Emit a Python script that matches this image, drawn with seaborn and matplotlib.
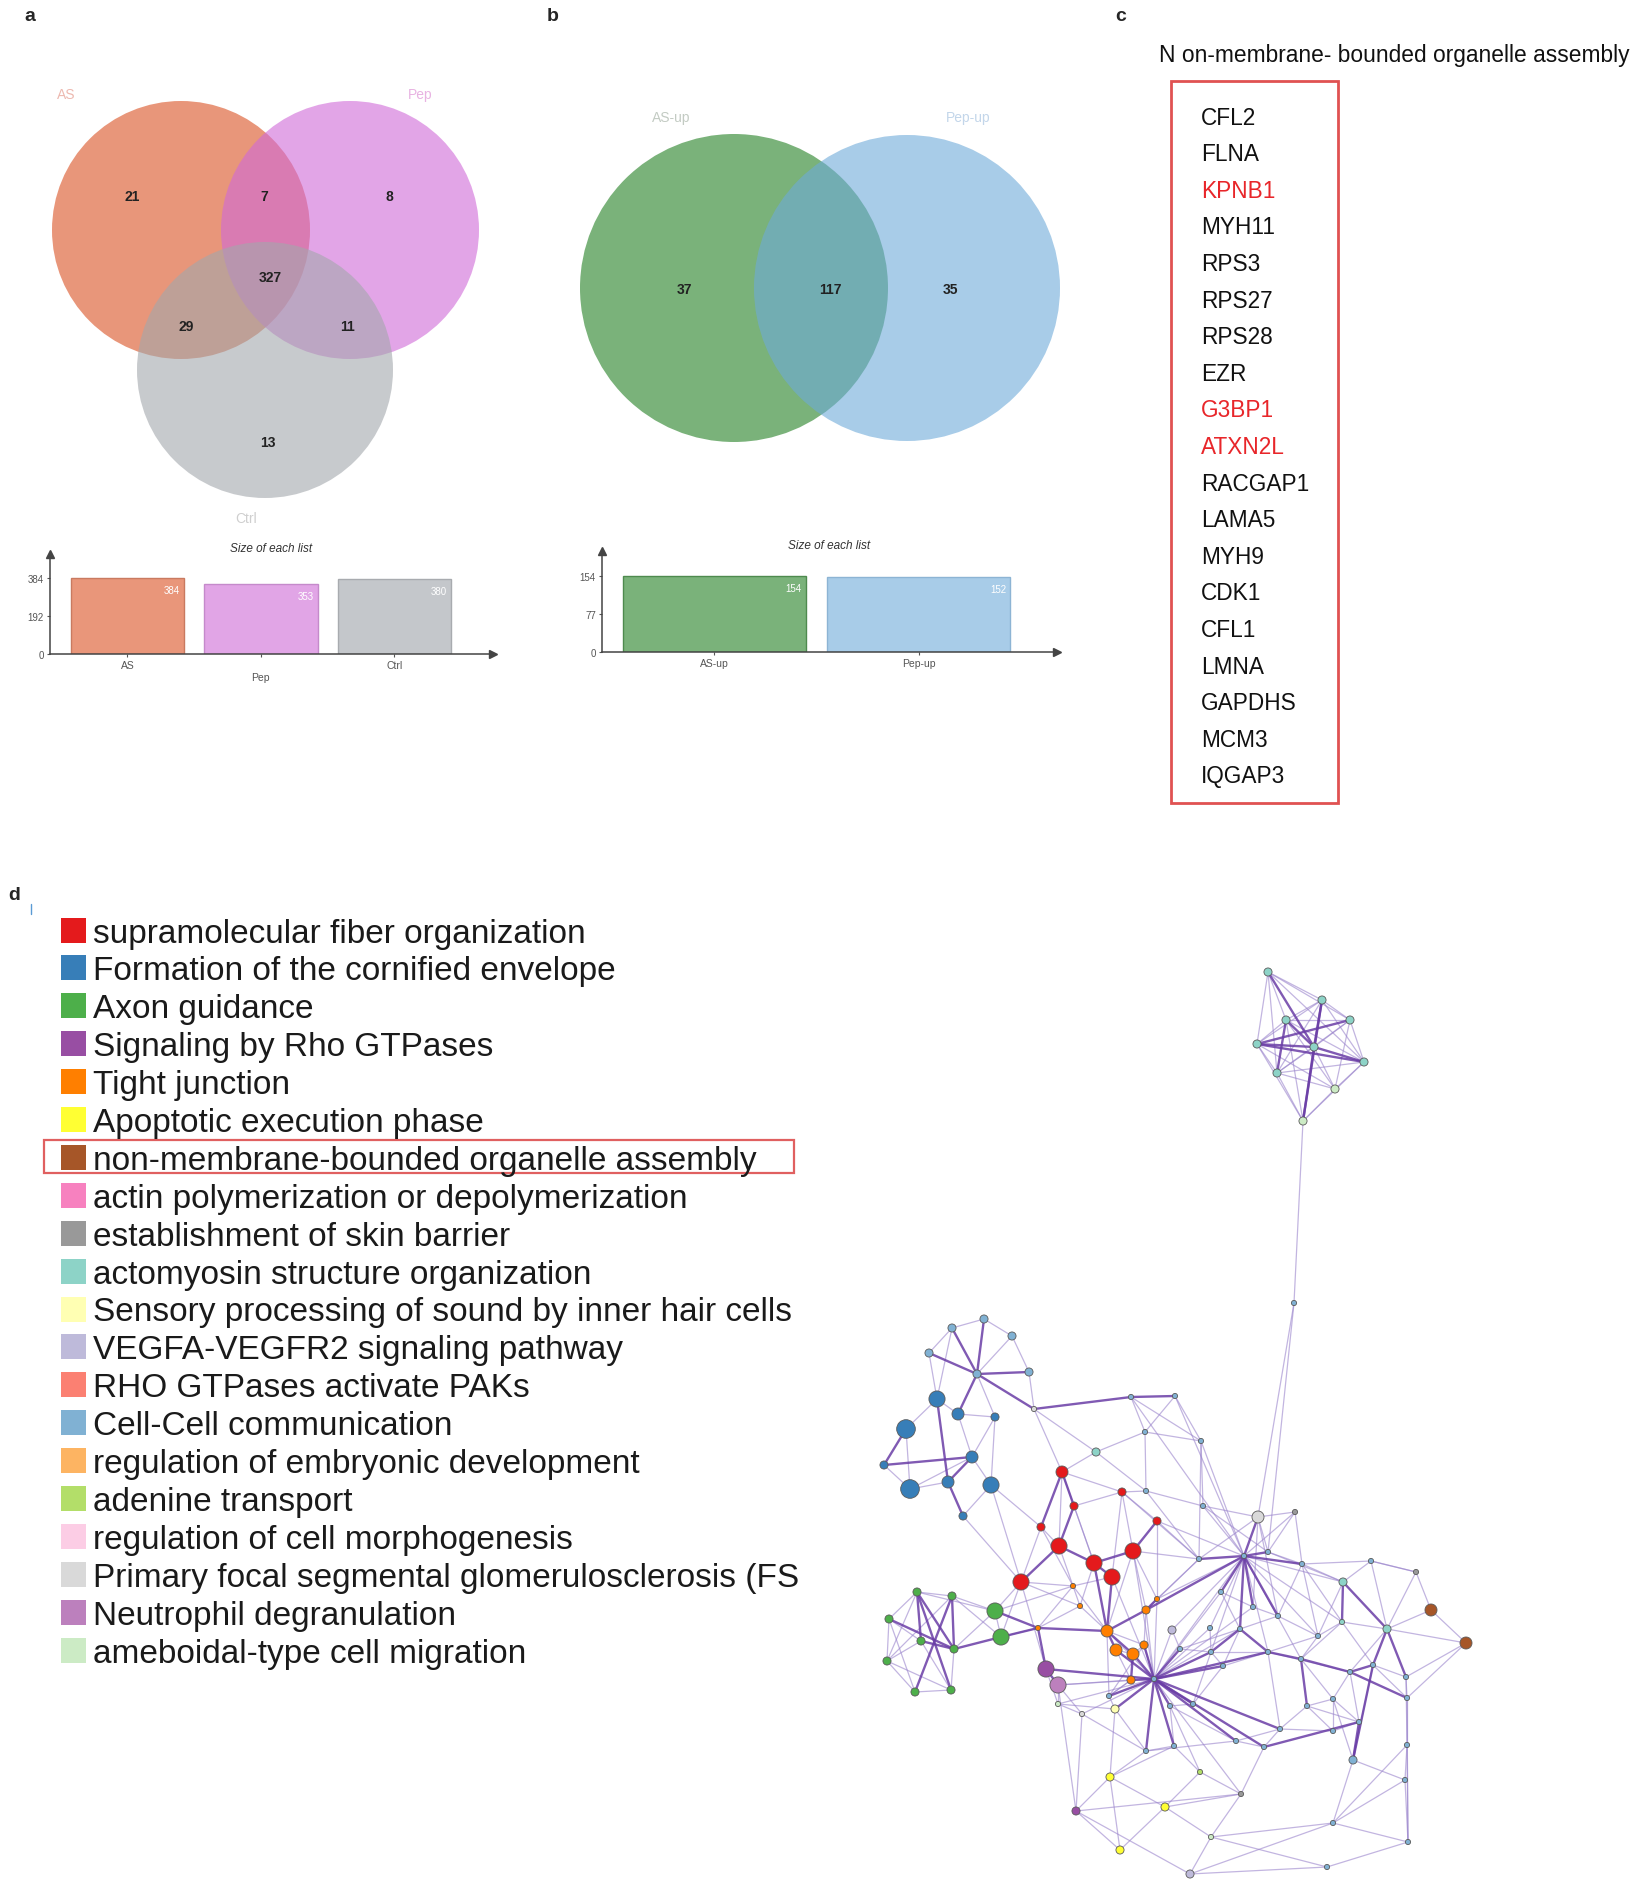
import numpy as np
import pandas as pd
import matplotlib
matplotlib.use("Agg")
import matplotlib.pyplot as plt
from matplotlib.patches import Circle, Rectangle
from matplotlib.collections import LineCollection
import seaborn as sns

# ======================= DATA =======================
# Panel a: three-set Venn
venn_a_sets = ["AS", "Pep", "Ctrl"]
venn_a_regions = ["AS only", "AS&Pep", "Pep only", "AS&Pep&Ctrl", "AS&Ctrl", "Pep&Ctrl", "Ctrl only"]
venn_a_counts = [21, 7, 8, 327, 29, 11, 13]
list_a_names = ["AS", "Pep", "Ctrl"]
list_a_sizes = [384, 353, 380]
list_a_ticks = [0, 192, 384]

# Panel b: two-set Venn
venn_b_sets = ["AS-up", "Pep-up"]
venn_b_regions = ["AS-up only", "both", "Pep-up only"]
venn_b_counts = [37, 117, 35]
list_b_names = ["AS-up", "Pep-up"]
list_b_sizes = [154, 152]
list_b_ticks = [0, 77, 154]

# Panel c: gene list
panel_c_title = "N on-membrane- bounded organelle assembly"
genes = ["CFL2", "FLNA", "KPNB1", "MYH11", "RPS3", "RPS27", "RPS28", "EZR", "G3BP1",
         "ATXN2L", "RACGAP1", "LAMA5", "MYH9", "CDK1", "CFL1", "LMNA", "GAPDHS", "MCM3", "IQGAP3"]
highlight_genes = ["KPNB1", "G3BP1", "ATXN2L"]

# Panel d: enrichment network
terms = ["supramolecular fiber organization", "Formation of the cornified envelope", "Axon guidance",
         "Signaling by Rho GTPases", "Tight junction", "Apoptotic execution phase",
         "non-membrane-bounded organelle assembly", "actin polymerization or depolymerization",
         "establishment of skin barrier", "actomyosin structure organization",
         "Sensory processing of sound by inner hair cells", "VEGFA-VEGFR2 signaling pathway",
         "RHO GTPases activate PAKs", "Cell-Cell communication", "regulation of embryonic development",
         "adenine transport", "regulation of cell morphogenesis",
         "Primary focal segmental glomerulosclerosis (FS", "Neutrophil degranulation",
         "ameboidal-type cell migration"]
term_colors = ["#E41A1C", "#377EB8", "#4DAF4A", "#984EA3", "#FF7F00", "#FFFF33", "#A65628",
               "#F781BF", "#999999", "#8DD3C7", "#FFFFB3", "#BEBADA", "#FB8072", "#80B1D3",
               "#FDB462", "#B3DE69", "#FCCDE5", "#D9D9D9", "#BC80BD", "#CCEBC5"]
highlight_term = "non-membrane-bounded organelle assembly"

node_x = [1268, 1322, 1350, 1286, 1257, 1314, 1364, 1277, 1335, 1303,
          1294, 984, 952, 1012, 929, 977, 1029, 937, 958, 995,
          1034, 906, 884, 972, 948, 910, 991, 963, 1131, 1175,
          1145, 1201, 1096, 1146, 1203, 1062, 1122, 1074, 1157, 1041,
          1059, 1133, 1094, 1112, 1021, 1073, 1080, 1157, 1146, 1038,
          1107, 1116, 1133, 1144, 1131, 917, 952, 995, 889, 1001,
          921, 954, 887, 915, 951, 1046, 1058, 1076, 1190, 1115,
          1110, 1165, 1120, 1200, 1058, 1082, 1172, 1210, 1295, 1371,
          1302, 1343, 1416, 1431, 1466, 1342, 1387, 1318, 1278, 1253,
          1373, 1406, 1407, 1307, 1359, 1333, 1280, 1264, 1236, 1146,
          1174, 1407, 1353, 1405, 1241, 1333, 1408, 1327, 1211, 1109,
          1170, 1193, 1223, 1244, 1199, 1221, 1268, 1154, 1180, 1211,
          1240, 1268, 1301, 1350, 1258, 1333]
node_y = [973, 1001, 1021, 1021, 1045, 1048, 1063, 1074, 1090, 1122,
          1304, 1320, 1329, 1337, 1354, 1375, 1373, 1400, 1415, 1418,
          1410, 1430, 1466, 1458, 1483, 1490, 1486, 1517, 1398, 1397,
          1433, 1442, 1453, 1492, 1507, 1473, 1493, 1507, 1522, 1528,
          1547, 1552, 1564, 1578, 1583, 1587, 1607, 1600, 1611, 1629,
          1632, 1651, 1655, 1646, 1681, 1593, 1597, 1612, 1620, 1638,
          1642, 1650, 1662, 1693, 1691, 1670, 1686, 1812, 1875, 1710,
          1778, 1808, 1851, 1773, 1705, 1715, 1631, 1629, 1513, 1562,
          1565, 1583, 1573, 1611, 1644, 1623, 1630, 1637, 1617, 1608,
          1666, 1678, 1699, 1707, 1723, 1732, 1730, 1748, 1742, 1752,
          1747, 1746, 1761, 1781, 1795, 1824, 1843, 1868, 1838, 1697,
          1707, 1705, 1667, 1557, 1560, 1593, 1553, 1680, 1650, 1653,
          1630, 1653, 1660, 1673, 1518, 1700]
node_term = [9, 9, 9, 9, 9, 9, 9, 9, 19, 19,
             13, 13, 13, 13, 13, 13, 13, 1, 1, 1,
             17, 1, 1, 1, 1, 1, 1, 1, 13, 13,
             13, 13, 9, 13, 13, 0, 0, 0, 0, 0,
             0, 0, 0, 0, 0, 4, 4, 4, 4, 4,
             4, 4, 4, 4, 4, 2, 2, 2, 2, 2,
             2, 2, 2, 2, 2, 3, 18, 3, 11, 10,
             5, 5, 5, 15, 19, 17, 11, 13, 8, 13,
             13, 9, 8, 6, 6, 9, 9, 13, 13, 13,
             13, 13, 13, 13, 13, 13, 13, 13, 13, 13,
             13, 13, 13, 13, 8, 13, 13, 13, 19, 13,
             13, 13, 13, 13, 13, 13, 13, 13, 13, 13,
             13, 13, 13, 13, 17, 13]
node_rank = [2, 2, 2, 2, 2, 2, 2, 2, 2, 2,
             1, 2, 2, 2, 2, 2, 2, 4, 3, 2,
             1, 5, 2, 3, 3, 5, 4, 2, 1, 1,
             1, 1, 2, 1, 1, 3, 2, 2, 2, 2,
             4, 4, 4, 4, 4, 1, 1, 1, 2, 1,
             3, 3, 3, 2, 2, 2, 2, 4, 2, 4,
             2, 2, 2, 2, 2, 4, 4, 2, 2, 2,
             2, 2, 2, 1, 1, 1, 2, 1, 1, 1,
             1, 2, 1, 3, 3, 1, 2, 1, 1, 1,
             1, 1, 1, 1, 1, 1, 1, 1, 1, 1,
             1, 1, 2, 1, 1, 1, 1, 1, 1, 1,
             1, 1, 1, 1, 1, 1, 1, 1, 1, 1,
             1, 1, 1, 1, 3, 1]

edges_strong = [(0, 5), (1, 5), (1, 9), (2, 4), (3, 5), (4, 5), (5, 6), (3, 7), (5, 9), (4, 6),
                (11, 15), (12, 15), (14, 15), (15, 16), (15, 20), (22, 23), (23, 24), (24, 27),
                (17, 24), (15, 18), (21, 22), (28, 29), (20, 28),
                (35, 37), (37, 40), (40, 42), (41, 42), (42, 43), (38, 41), (40, 44), (43, 50),
                (42, 50), (35, 39), (47, 48), (48, 50), (50, 51), (50, 52), (52, 54), (49, 50),
                (48, 113), (53, 117), (52, 117), (51, 117),
                (55, 60), (56, 61), (58, 61), (60, 61), (59, 61), (61, 55), (57, 49), (59, 49),
                (55, 64), (56, 63),
                (117, 54), (117, 65), (117, 69), (117, 110), (117, 99), (117, 100), (117, 111),
                (117, 112), (117, 119), (117, 121), (117, 98), (117, 109), (117, 118),
                (113, 114), (113, 115), (113, 116), (113, 124), (113, 89), (113, 88), (113, 120),
                (113, 80), (81, 85), (81, 86), (86, 90), (90, 123), (122, 123), (93, 122),
                (94, 102), (102, 90), (92, 123), (86, 91), (119, 120), (120, 121),
                (65, 66), (65, 49), (117, 96), (117, 97), (121, 122), (94, 97)]
edges_weak = [(0, 3), (0, 4), (1, 3), (1, 2), (2, 5), (2, 6), (3, 4), (4, 7), (5, 7), (5, 8),
              (6, 8), (7, 9), (8, 9), (6, 9), (3, 6), (9, 10), (10, 124),
              (0, 1), (0, 2), (0, 6), (0, 7), (1, 4), (1, 6), (1, 7), (2, 3), (2, 7), (2, 8),
              (3, 8), (3, 9), (4, 8), (4, 9), (6, 7), (7, 8),
              (13, 15), (11, 12), (11, 13), (12, 14), (13, 16), (14, 17), (15, 19), (17, 18),
              (17, 21), (18, 19), (18, 23), (21, 25), (22, 25), (23, 26), (24, 25), (26, 27),
              (19, 23), (23, 25), (19, 26), (16, 20), (12, 17), (20, 32), (27, 44), (26, 44),
              (26, 39), (20, 35),
              (28, 30), (29, 30), (28, 31), (29, 31), (30, 31), (30, 32), (30, 33), (31, 34),
              (33, 34), (32, 33), (28, 113), (29, 113), (31, 113), (33, 36), (32, 35),
              (34, 116), (34, 124), (31, 114), (33, 114), (38, 114),
              (36, 38), (39, 40), (36, 41), (44, 45), (43, 45), (42, 46), (40, 45), (37, 36),
              (39, 44), (35, 36), (41, 50), (47, 41),
              (45, 46), (46, 50), (45, 50), (51, 52), (52, 53), (53, 48), (50, 53), (51, 54),
              (49, 45), (47, 114), (47, 113),
              (58, 60), (55, 56), (58, 55), (62, 63), (63, 64), (64, 61), (57, 59), (56, 57),
              (59, 44), (57, 44), (55, 62), (60, 64), (62, 56), (60, 62),
              (117, 50), (117, 66), (117, 75), (117, 74), (117, 76), (117, 77), (113, 78),
              (113, 87), (113, 76),
              (80, 81), (80, 79), (81, 79), (79, 82), (82, 83), (83, 84), (84, 86), (86, 85),
              (85, 87), (90, 91), (91, 92), (92, 101), (90, 102), (94, 95), (95, 93), (125, 95),
              (125, 93), (125, 94), (101, 103), (103, 105), (105, 106), (106, 107), (107, 68),
              (68, 67), (67, 70), (70, 72), (71, 72), (71, 73), (70, 71), (73, 104), (104, 97),
              (97, 98), (96, 97), (96, 121), (98, 110), (99, 100), (100, 73), (69, 70), (67, 75),
              (102, 103), (102, 105), (105, 108), (108, 71), (74, 66), (66, 75), (74, 75),
              (124, 116), (88, 89), (87, 88), (87, 122), (89, 115), (116, 78), (78, 80),
              (80, 88), (82, 86), (84, 91), (118, 119), (115, 120), (112, 121), (44, 65),
              (66, 67), (69, 109), (109, 54), (111, 112), (110, 111), (99, 70), (104, 108),
              (68, 105), (76, 118), (77, 119), (122, 125), (93, 96), (101, 106),
              (117, 53), (117, 48), (117, 47), (117, 41), (117, 43), (117, 104), (117, 120),
              (117, 89), (117, 115), (117, 113), (113, 77), (113, 119), (113, 121), (113, 122),
              (113, 81), (113, 85), (113, 34), (113, 38), (114, 41), (114, 48), (116, 80),
              (116, 81), (124, 89), (124, 88), (124, 114), (121, 123), (119, 121), (118, 120),
              (112, 119), (112, 120), (120, 88), (121, 87), (122, 85), (87, 81), (85, 90),
              (86, 123), (90, 92), (91, 101), (123, 94), (123, 125), (125, 102), (93, 94),
              (95, 96), (96, 98), (98, 99), (100, 110), (111, 119), (110, 73), (99, 69),
              (69, 74), (109, 50), (109, 53), (65, 74), (54, 66), (54, 109), (75, 99), (70, 100),
              (72, 67), (67, 104), (68, 108), (107, 108), (104, 71), (103, 106), (101, 105),
              (106, 92), (84, 92), (83, 86), (82, 79), (79, 86), (80, 85), (80, 87), (78, 124),
              (10, 116), (36, 114), (38, 47), (41, 48), (36, 43), (37, 42), (39, 45), (35, 40),
              (35, 42), (44, 46), (46, 49), (45, 57), (49, 59), (55, 57), (56, 59), (58, 62),
              (58, 63), (62, 64), (57, 61)]

# ======================= STYLE / LAYOUT =======================
sns.set_style("white")
plt.rcParams["font.family"] = ["Liberation Sans", "DejaVu Sans"]

W, H = 1634, 1883
fig = plt.figure(figsize=(W / 100, H / 100), dpi=100)
ax = fig.add_axes([0, 0, 1, 1])
ax.set_xlim(0, W)
ax.set_ylim(H, 0)
ax.axis("off")

def px_axes(left, top, right, bottom):
    return fig.add_axes([left / W, 1 - bottom / H, (right - left) / W, (bottom - top) / H])

# panel labels
for lab, (lx, ly) in zip("abcd", [(30, 16), (553, 16), (1121, 16), (14, 896)]):
    ax.text(lx, ly, lab, fontsize=14, fontweight="bold", ha="center", va="center")
ax.plot([31, 31], [905, 915], color="#5B9BD5", lw=1)

# ---------- Venn a ----------
venn_a_circles = [((181, 231), 129, "#DA5021"), ((350, 231), 129, "#D069D8"), ((265, 371), 128, "#A3A7AC")]
for (c, r, col) in venn_a_circles:
    ax.add_patch(Circle(c, r, facecolor=col, edgecolor="none", alpha=0.6, zorder=1))
venn_a_label_pos = [(66, 95, "#EDB9B0"), (420, 95, "#E8B3E2"), (246, 519, "#CFCFCF")]
for name, (x, y, col) in zip(venn_a_sets, venn_a_label_pos):
    ax.text(x, y, name, fontsize=10, color=col, ha="center", va="center")
venn_a_num_pos = [(132, 197), (264, 197), (389, 197), (270, 278), (186, 327), (348, 327), (268, 443)]
for cnt, (x, y) in zip(venn_a_counts, venn_a_num_pos):
    ax.text(x, y, str(cnt), fontsize=10, fontweight="bold", color="#222222", ha="center", va="center", zorder=5)

# ---------- Venn b ----------
venn_b_circles = [((734, 289), 154, "#217F21"), ((907, 289), 153, "#6EAAD9")]
for (c, r, col) in venn_b_circles:
    ax.add_patch(Circle(c, r, facecolor=col, edgecolor="none", alpha=0.6, zorder=1))
venn_b_label_pos = [(671, 118, "#C3CBC3"), (968, 118, "#C3D6EA")]
for name, (x, y, col) in zip(venn_b_sets, venn_b_label_pos):
    ax.text(x, y, name, fontsize=10, color=col, ha="center", va="center")
venn_b_num_pos = [(684, 290), (830, 290), (950, 290)]
for cnt, (x, y) in zip(venn_b_counts, venn_b_num_pos):
    ax.text(x, y, str(cnt), fontsize=10, fontweight="bold", color="#222222", ha="center", va="center", zorder=5)

# ---------- bar charts ("Size of each list") ----------
def list_bars(axb, names, sizes, ticks, colors, edges, width, xlim, ymax, stagger):
    df = pd.DataFrame({"name": names, "size": sizes})
    sns.barplot(data=df, x="name", y="size", hue="name", palette=dict(zip(names, colors)),
                width=width, legend=False, ax=axb, saturation=1, linewidth=1)
    for p, ec in zip(axb.patches, edges):
        p.set_edgecolor(ec)
    axb.set_xlim(*xlim)
    axb.set_ylim(0, ymax)
    axb.set_xlabel("")
    axb.set_ylabel("")
    axb.set_facecolor("none")
    for s in ["top", "right"]:
        axb.spines[s].set_visible(False)
    for s in ["left", "bottom"]:
        axb.spines[s].set_color("#444444")
        axb.spines[s].set_linewidth(1.1)
    axb.set_yticks(ticks)
    axb.set_yticklabels([str(t) for t in ticks], fontsize=7, color="#555555")
    labels = [("\n" + n) if (stagger and i % 2 == 1) else n for i, n in enumerate(names)]
    axb.set_xticks(range(len(names)))
    axb.set_xticklabels(labels, fontsize=7.5, color="#555555", va="top")
    axb.tick_params(axis="both", length=2.5, width=0.8, color="#555555", pad=2, left=True, bottom=True)
    axb.plot(1, 0, marker=">", ms=6, color="#444444", transform=axb.transAxes, clip_on=False)
    axb.plot(0, 1, marker="^", ms=6, color="#444444", transform=axb.transAxes, clip_on=False)
    for i, v in enumerate(sizes):
        axb.annotate(str(v), xy=(i + width / 2, v), xytext=(-3, -5), textcoords="offset points",
                     ha="right", va="top", fontsize=7, color="white")
    axb.text(0.5, 1.0, "Size of each list", transform=axb.transAxes, ha="center", va="bottom",
             fontsize=8.5, style="italic", color="#333333")

axa = px_axes(50, 555, 493, 655)
list_bars(axa, list_a_names, list_a_sizes, list_a_ticks,
          ["#E9967A", "#E1A5E6", "#C4C7CB"], ["#C97A60", "#C58ACB", "#A8ABAF"],
          0.85, (-0.58, 2.74), 505, True)

axb = px_axes(602, 552, 1057, 653)
list_bars(axb, list_b_names, list_b_sizes, list_b_ticks,
          ["#7AB27A", "#A8CCE8"], ["#4E8A4E", "#8DB4D4"],
          0.895, (-0.55, 1.675), 204, False)

# ---------- Panel c ----------
ax.text(1159, 55, panel_c_title, fontsize=16.4, ha="left", va="center", color="#111111")
ax.add_patch(Rectangle((1171, 82), 1338 - 1171, 804 - 82, fill=False, edgecolor="#E05252", lw=2))
for i, g in enumerate(genes):
    ax.text(1201, 118 + 36.6 * i, g, fontsize=16.3, ha="left", va="center",
            color="#E8262A" if g in highlight_genes else "#111111")

# ---------- Panel d legend ----------
for i, (t, c) in enumerate(zip(terms, term_colors)):
    yc = 931 + 37.9 * i
    ax.add_patch(Rectangle((61, yc - 12.5), 25, 25, facecolor=c, edgecolor="none"))
    ax.text(93, yc + 11.5, t, fontsize=24, ha="left", va="baseline", color="#1A1A1A")
    if t == highlight_term:
        ax.add_patch(Rectangle((44, yc - 17), 750, 33, fill=False, edgecolor="#E06060", lw=1.6))

# ---------- Panel d network ----------
nx_arr = np.array(node_x, dtype=float)
ny_arr = np.array(node_y, dtype=float)
seg_w = [[(nx_arr[a], ny_arr[a]), (nx_arr[b], ny_arr[b])] for a, b in edges_weak]
seg_s = [[(nx_arr[a], ny_arr[a]), (nx_arr[b], ny_arr[b])] for a, b in edges_strong]
ax.add_collection(LineCollection(seg_w, colors="#9A84CC", linewidths=0.9, alpha=0.6, zorder=2))
ax.add_collection(LineCollection(seg_s, colors="#6A3DA6", linewidths=1.7, alpha=0.85, zorder=2))

nodes = pd.DataFrame({"x": node_x, "y": node_y,
                      "term": [terms[k] for k in node_term], "rank": node_rank})
sns.scatterplot(data=nodes, x="x", y="y", hue="term", size="rank",
                palette=dict(zip(terms, term_colors)),
                sizes={1: 14, 2: 34, 3: 75, 4: 135, 5: 180},
                edgecolor="#5A5A5A", linewidth=0.6, legend=False, ax=ax, zorder=3)
ax.set_xlim(0, W)
ax.set_ylim(H, 0)
ax.axis("off")

fig.savefig("out.png", dpi=100)
